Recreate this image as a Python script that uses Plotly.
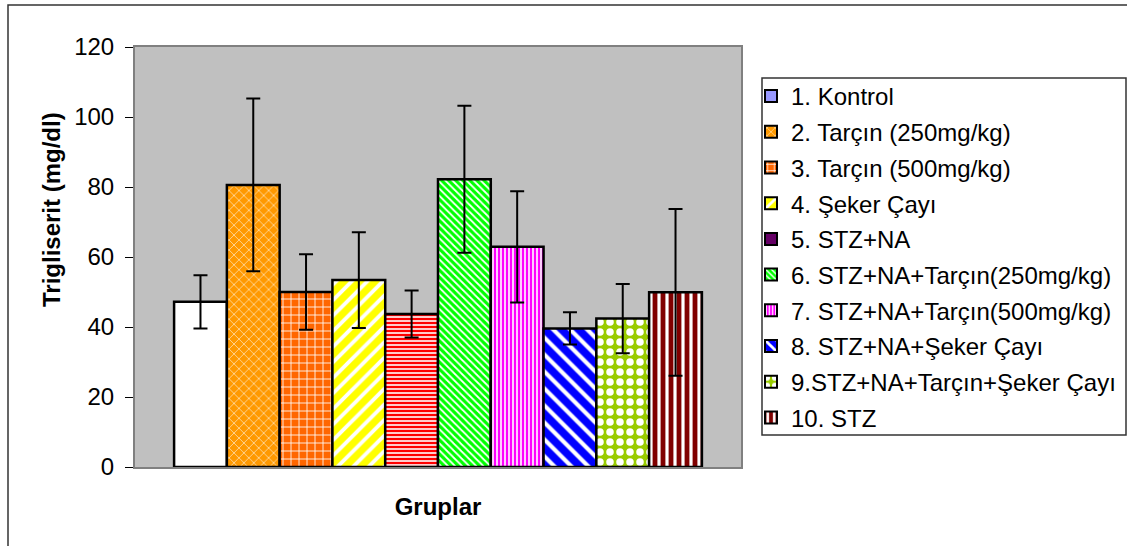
import plotly.graph_objects as go

# ---- data ----
groups = ["1. Kontrol", "2. Tarçın (250mg/kg)", "3. Tarçın (500mg/kg)", "4. Şeker Çayı",
          "5. STZ+NA", "6. STZ+NA+Tarçın(250mg/kg)", "7. STZ+NA+Tarçın(500mg/kg)",
          "8. STZ+NA+Şeker Çayı", "9.STZ+NA+Tarçın+Şeker Çayı", "10. STZ"]
means = [47.2, 80.6, 50.0, 53.4, 43.7, 82.2, 62.9, 39.6, 42.4, 49.9]
errors = [7.6, 24.7, 10.8, 13.7, 6.7, 21.0, 15.9, 4.6, 9.9, 23.8]
category = ["Gruplar"]
y_ticks = [0, 20, 40, 60, 80, 100, 120]

# ---- styles ----
bar_colors = ["#FFFFFF", "#FF9900", "#FF6600", "#FFFF00", "#FF0000",
              "#00FF00", "#FF00FF", "#0000FF", "#99CC00", "#800000"]
legend_colors = ["#9999FF", "#FF9900", "#FF6600", "#FFFF00", "#660066",
                 "#00FF00", "#FF00FF", "#0000FF", "#99CC00", "#800000"]
patterns = [None,
            dict(shape="x", size=7, solidity=0.15),
            dict(shape="+", size=8, solidity=0.2),
            dict(shape="/", size=11, solidity=0.35),
            dict(shape="-", size=4, solidity=0.4),
            dict(shape="\\", size=5, solidity=0.35),
            dict(shape="|", size=4, solidity=0.4),
            dict(shape="\\", size=12, solidity=0.35),
            dict(shape=".", size=10, solidity=0.45),
            dict(shape="|", size=8, solidity=0.4)]
legend_patterns = [None, patterns[1], patterns[2], patterns[3], None,
                   patterns[5], patterns[6], patterns[7], patterns[8], patterns[9]]

FONT = "Arial, Liberation Sans, Helvetica, sans-serif"


def make_marker(color, pat, lw):
    m = dict(color=color, line=dict(color="black", width=lw))
    if pat:
        m["pattern"] = dict(fgcolor="white", bgcolor=color, fillmode="replace", **pat)
    return m


fig = go.Figure()
for i, name in enumerate(groups):
    fig.add_trace(go.Bar(
        x=category, y=[means[i]], name=name, showlegend=False,
        marker=make_marker(bar_colors[i], patterns[i], 2.5),
        error_y=dict(type="data", array=[errors[i]], color="black", thickness=2, width=7),
    ))

# legend entries (swatches as in the original legend), drawn on a hidden axis
for i, name in enumerate(groups):
    fig.add_trace(go.Bar(
        x=category, y=[means[i]], name=name, legendgroup=f"g{i}",
        marker=make_marker(legend_colors[i], legend_patterns[i], 2),
        xaxis="x2", yaxis="y2", hoverinfo="skip",
    ))

W, H = 1127, 546
L, R, T, B = 135, 741, 47, 467
pw, ph = R - L, B - T


def px(x):
    return (x - L) / pw


def py(y):
    return (B - y) / ph


fig.update_layout(
    width=W, height=H,
    margin=dict(l=L, r=W - R, t=T, b=H - B, autoexpand=False),
    paper_bgcolor="white", plot_bgcolor="#C0C0C0",
    barmode="group", bargap=0.129, bargroupgap=0,
    font=dict(family=FONT, size=24, color="black"),
    xaxis=dict(showticklabels=False, ticks="", showgrid=False, zeroline=False,
               showline=True, linecolor="#808080", linewidth=2, mirror=True,
               title=dict(text="<b>Gruplar</b>", font=dict(size=24), standoff=30)),
    yaxis=dict(range=[0, 120], tickvals=y_ticks, ticks="outside", ticklen=8,
               tickcolor="black", tickwidth=1, showgrid=False, zeroline=False,
               showline=True, linecolor="#808080", linewidth=2, mirror=True,
               tickfont=dict(size=24), ticklabelstandoff=6),
    xaxis2=dict(overlaying="x", range=[50, 60], visible=False),
    yaxis2=dict(overlaying="y", range=[0, 120], visible=False),
    legend=dict(x=px(751), y=py(74), xanchor="left", yanchor="top",
                bgcolor="rgba(0,0,0,0)", borderwidth=0,
                font=dict(size=24), tracegroupgap=1.5, itemwidth=30),
    showlegend=True,
    shapes=[
        # outer chart frame
        dict(type="rect", xref="paper", yref="paper", x0=px(8), y0=py(5), x1=px(1140), y1=py(560),
             line=dict(color="#333333", width=1.5), fillcolor="rgba(0,0,0,0)", layer="below"),
        # legend box
        dict(type="rect", xref="paper", yref="paper", x0=px(762), y0=py(78), x1=px(1126), y1=py(435),
             line=dict(color="#333333", width=1.5), fillcolor="white", layer="below"),
    ],
    annotations=[
        dict(text="<b>Trigliserit (mg/dl)</b>", xref="paper", yref="paper", x=px(52), y=py(210),
             xanchor="center", yanchor="middle", textangle=-90, showarrow=False,
             font=dict(size=24)),
    ],
)

fig.write_html("out.html",
               config={"displayModeBar": False},
               post_script="document.body.style.margin='0';document.body.style.overflow='hidden';")
